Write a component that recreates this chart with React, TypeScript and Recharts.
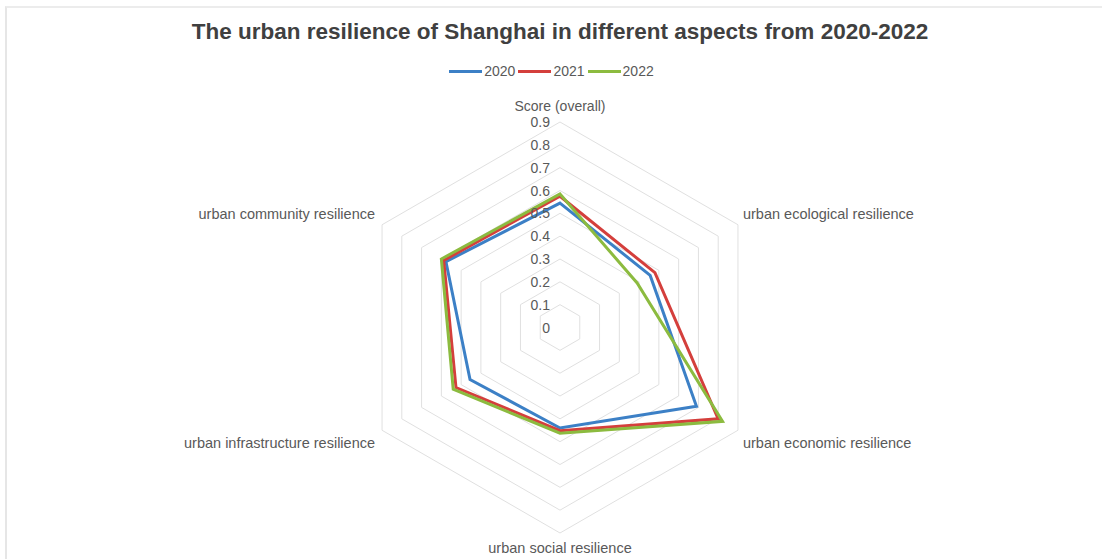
import React from 'react';
import { RadarChart, Radar, PolarGrid, PolarAngleAxis, PolarRadiusAxis } from 'recharts';

const categories = [
  'Score (overall)',
  'urban ecological resilience',
  'urban economic resilience',
  'urban social resilience',
  'urban infrastructure resilience',
  'urban community resilience',
];
const values2020 = [0.545, 0.456, 0.69, 0.44, 0.455, 0.577];
const values2021 = [0.575, 0.48, 0.8, 0.452, 0.526, 0.588];
const values2022 = [0.585, 0.39, 0.822, 0.463, 0.54, 0.6];
const radiusTicks = [0, 0.1, 0.2, 0.3, 0.4, 0.5, 0.6, 0.7, 0.8, 0.9];
const radiusDomain = [0, 1];
const radiusMax = 0.9;

const seriesNames = ['2020', '2021', '2022'];
const seriesColors = ['#3C80C6', '#D43F3C', '#8CBB3F'];

const data = categories.map((c, i) => ({
  category: c,
  '2020': values2020[i],
  '2021': values2021[i],
  '2022': values2022[i],
}));

const W = 1102;
const H = 559;
const CX = 560;
const CY = 327.5;
const R = 205.5; // radius of the 0.9 ring
const FULL_R = R / radiusMax * radiusDomain[1];
const FONT = '"Liberation Sans", Arial, Helvetica, sans-serif';

const AngleTick = (props: any) => {
  const { payload, index } = props;
  const ang = (90 - index * 60) * Math.PI / 180;
  const vx = CX + R * Math.cos(ang);
  const vy = CY - R * Math.sin(ang);
  let x = vx, y = vy, anchor: any = 'middle';
  if (index === 0) { y = vy - 16; }
  else if (index === 3) { y = vy + 15; }
  else if (index === 1) { x = vx + 5; y = vy - 11; anchor = 'start'; }
  else if (index === 2) { x = vx + 5; y = vy + 13; anchor = 'start'; }
  else if (index === 4) { x = vx - 7; y = vy + 13; anchor = 'end'; }
  else if (index === 5) { x = vx - 7; y = vy - 11; anchor = 'end'; }
  return (
    <text x={x} y={y} textAnchor={anchor} dominantBaseline="central" fill="#595959"
      style={{ fontFamily: FONT, fontSize: index === 0 ? 14 : 14.5 }}>
      {payload.value}
    </text>
  );
};

const RadiusTick = (props: any) => {
  const { y, payload } = props;
  return (
    <text x={CX - 10} y={y} textAnchor="end" dominantBaseline="central" fill="#595959"
      style={{ fontFamily: FONT, fontSize: 14 }}>
      {String(Math.round(payload.value * 10) / 10)}
    </text>
  );
};

const LegendBar = () => (
  <div style={{ position: 'absolute', top: 63, left: 0, width: W, paddingLeft: 4, boxSizing: 'border-box', display: 'flex', justifyContent: 'center', alignItems: 'center', fontFamily: FONT, fontSize: 14, color: '#595959' }}>
    {seriesNames.map((n, i) => (
      <div key={n} style={{ display: 'flex', alignItems: 'center', marginRight: 3 }}>
        <div style={{ width: 33, height: 3, background: seriesColors[i], marginRight: 2 }} />
        <span>{n}</span>
      </div>
    ))}
  </div>
);

export default function App() {
  return (
    <div style={{ position: 'absolute', left: 0, top: 0, width: W, height: H, background: '#fff', overflow: 'hidden' }}>
      <div style={{ position: 'absolute', left: 5, top: 6, right: 0, bottom: 0, borderTop: '2px solid #ececec', borderLeft: '2px solid #e6e6e6' }} />
      <div style={{ position: 'absolute', left: 0, top: 19, width: W, textAlign: 'center', paddingLeft: 18, boxSizing: 'border-box', fontFamily: FONT, fontWeight: 'bold', fontSize: 22.5, color: '#404040' }}>
        The urban resilience of Shanghai in different aspects from 2020-2022
      </div>
      <LegendBar />
      <div style={{ position: 'absolute', left: 0, top: 0 }}>
        <RadarChart width={W} height={H} data={data} cx={CX} cy={CY} outerRadius={FULL_R} startAngle={90} endAngle={-270} margin={{ top: 0, right: 0, bottom: 0, left: 0 }}>
          <PolarGrid gridType="polygon" radialLines={false} stroke="#e0e0e0" strokeWidth={1} />
          <PolarAngleAxis dataKey="category" tick={<AngleTick />} tickLine={false} axisLine={false} />
          <PolarRadiusAxis type="number" angle={90} domain={radiusDomain} ticks={radiusTicks} tick={<RadiusTick />} axisLine={false} tickLine={false} />
          {seriesNames.map((n, i) => (
            <Radar key={n} name={n} dataKey={n} stroke={seriesColors[i]} strokeWidth={3} fill="none" fillOpacity={0} dot={false} isAnimationActive={false} />
          ))}
        </RadarChart>
      </div>
    </div>
  );
}
